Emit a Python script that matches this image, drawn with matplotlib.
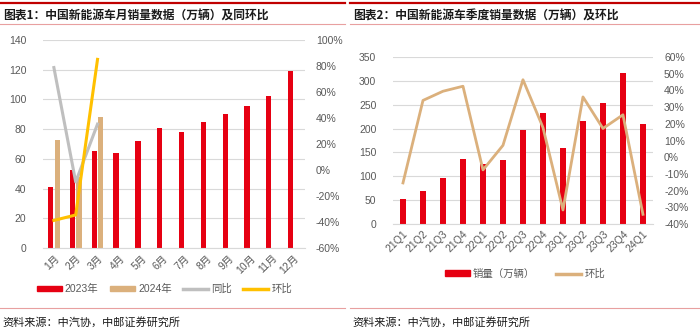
import numpy as np
import matplotlib
matplotlib.use('Agg')
import matplotlib.pyplot as plt
from matplotlib.lines import Line2D
from matplotlib.patches import Rectangle

plt.rcParams['font.family'] = ['Liberation Sans', 'Noto Sans CJK SC']
plt.rcParams['axes.unicode_minus'] = False

# 图表1 数据
months = ['1月', '2月', '3月', '4月', '5月', '6月', '7月', '8月', '9月', '10月', '11月', '12月']
sales_2023 = [40.8, 52.5, 65.3, 63.6, 71.7, 80.6, 78.0, 84.6, 90.4, 95.6, 102.6, 119.1]
sales_2024 = [72.9, 47.7, 88.3]
yoy_2024 = [78.8, -9.2, 35.3]
mom_2024 = [-38.8, -34.6, 85.1]

# 图表2 数据
quarters = ['21Q1', '21Q2', '21Q3', '21Q4', '22Q1', '22Q2', '22Q3', '22Q4',
            '23Q1', '23Q2', '23Q3', '23Q4', '24Q1']
q_sales = [51.5, 69.0, 96.0, 136.0, 125.7, 134.6, 197.0, 232.0,
           158.6, 215.9, 253.0, 317.3, 208.9]
q_mom = [-15.4, 34.0, 39.5, 42.5, -7.6, 7.1, 46.4, 17.8, -31.6, 36.1, 17.2, 25.4, -34.2]

RED = '#E60012'
TAN = '#DBB07C'
GREY = '#BFBFBF'
YELLOW = '#FFC000'
TICK = '#595959'
GRID = '#D9D9D9'

fig = plt.figure(figsize=(7.0, 3.33), dpi=100)


def style_axes(ax, ax2):
    for a in (ax, ax2):
        for s in a.spines.values():
            s.set_visible(False)
        a.tick_params(length=0, colors=TICK, labelsize=7.5)
    ax.spines['bottom'].set_visible(True)
    ax.spines['bottom'].set_color(GRID)
    ax.grid(axis='y', color=GRID, lw=0.8)
    ax.set_axisbelow(True)
    ax2.set_zorder(ax.get_zorder() + 1)
    ax2.patch.set_visible(False)


def pct(v, p):
    return f'{v:.0f}%'


# ---------- 图表1 ----------
ax1 = fig.add_axes([0.0614, 0.2553, 0.374, 0.6246])
ax1r = ax1.twinx()
x = np.arange(len(months))
w = 0.24
ax1.bar(x - 0.15, sales_2023, w, color=RED)
ax1.bar(x[:3] + 0.15, sales_2024, w, color=TAN)
ax1r.plot(x[:3], yoy_2024, color=GREY, lw=2.2)
ax1r.plot(x[:3], mom_2024, color=YELLOW, lw=2.2)
ax1.set_xlim(-0.5, 11.5)
ax1.set_ylim(0, 140)
ax1.set_yticks(np.arange(0, 141, 20))
ax1r.set_ylim(-60, 100)
ax1r.set_yticks(np.arange(-60, 101, 20))
ax1r.yaxis.set_major_formatter(plt.FuncFormatter(pct))
ax1.set_xticks(x)
ax1.set_xticklabels(months, rotation=45, ha='right', rotation_mode='anchor')
style_axes(ax1, ax1r)
ax1.tick_params(axis='y', pad=12)
ax1r.tick_params(axis='y', pad=8)

h1 = [Rectangle((0, 0), 1, 1, color=RED), Rectangle((0, 0), 1, 1, color=TAN),
      Line2D([], [], color=GREY, lw=2.5), Line2D([], [], color=YELLOW, lw=2.5)]
fig.legend(h1, ['2023年', '2024年', '同比', '环比'], loc='center', ncol=4,
           bbox_to_anchor=(0.235, 0.132), frameon=False, fontsize=7.5,
           handlelength=2.4, handleheight=0.45, columnspacing=1.1, handletextpad=0.3,
           labelcolor=TICK)

# ---------- 图表2 ----------
ax2 = fig.add_axes([0.5614, 0.3273, 0.3714, 0.5015])
ax2r = ax2.twinx()
xq = np.arange(len(quarters))
ax2.bar(xq, q_sales, 0.3, color=RED)
ax2r.plot(xq, q_mom, color=TAN, lw=2)
ax2.set_xlim(-0.5, 12.5)
ax2.set_ylim(0, 350)
ax2.set_yticks(np.arange(0, 351, 50))
ax2r.set_ylim(-40, 60)
ax2r.set_yticks(np.arange(-40, 61, 10))
ax2r.yaxis.set_major_formatter(plt.FuncFormatter(pct))
ax2.set_xticks(xq)
ax2.set_xticklabels(quarters, rotation=45, ha='right', rotation_mode='anchor')
style_axes(ax2, ax2r)
ax2.tick_params(axis='y', pad=12)
ax2r.tick_params(axis='y', pad=8)

h2 = [Rectangle((0, 0), 1, 1, color=RED), Line2D([], [], color=TAN, lw=2.5)]
fig.legend(h2, ['销量（万辆）', '环比'], loc='center', ncol=2,
           bbox_to_anchor=(0.75, 0.178), frameon=False, fontsize=7.5,
           handlelength=2.4, handleheight=0.45, columnspacing=2.0, handletextpad=0.3,
           labelcolor=TICK)

# ---------- 标题与来源 ----------
title_font = ['Noto Sans CJK SC', 'DejaVu Sans']
for x0, x1, title in [(0.0, 0.493, '图表1：中国新能源车月销量数据（万辆）及同环比'),
                      (0.5, 1.0, '图表2：中国新能源车季度销量数据（万辆）及环比')]:
    fig.add_artist(Line2D([x0, x1], [0.991, 0.991], color='#C00000', lw=1.6))
    fig.add_artist(Line2D([x0, x1], [0.928, 0.928], color='#E8A0A0', lw=0.8))
    fig.text(x0 + 0.004, 0.953, title, fontsize=8.5, fontweight='bold',
             family=title_font, va='center', color='#1a1a1a')
    fig.add_artist(Line2D([x0, x1], [0.075, 0.075], color='#E8A0A0', lw=0.8))
    fig.text(x0 + 0.004, 0.033, '资料来源：中汽协，中邮证券研究所', fontsize=8,
             family=title_font, va='center', color='#1a1a1a')

fig.savefig('out.png', dpi=100)
